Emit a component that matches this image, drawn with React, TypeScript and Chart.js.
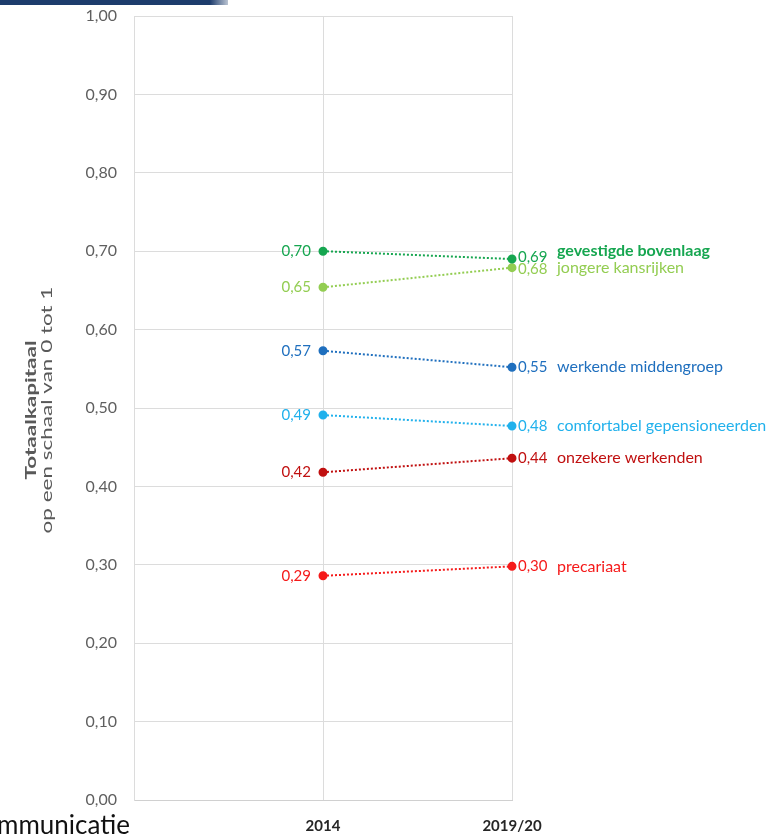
import React, { useEffect, useRef } from 'react';
import { Chart, registerables } from 'chart.js';

Chart.register(...registerables);

const categories = ['', '2014', '2019/20'];
const groups = [
  'gevestigde bovenlaag',
  'jongere kansrijken',
  'werkende middengroep',
  'comfortabel gepensioneerden',
  'onzekere werkenden',
  'precariaat',
];
const values2014 = [0.7, 0.654, 0.573, 0.491, 0.418, 0.286];
const values2019 = [0.69, 0.679, 0.552, 0.477, 0.436, 0.298];
const colors = ['#16a650', '#93cd52', '#1f6fbe', '#21b1ec', '#c01010', '#f51a1a'];
const yTitleBold = 'Totaalkapitaal';
const yTitle = 'op een schaal van 0 tot 1';

const FONT = 'Lato, "Open Sans", sans-serif';
const fmt = (v: number) => v.toFixed(2).replace('.', ',');

// separate labels vertically; 'up' pushes only the upper label upward
function spread(ys: number[], gap: number, up: boolean): number[] {
  const idx = ys.map((_, i) => i).sort((a, b) => ys[a] - ys[b]);
  const out = ys.slice();
  for (let iter = 0; iter < 20; iter++) {
    let moved = false;
    for (let k = 0; k < idx.length - 1; k++) {
      const a = idx[k];
      const b = idx[k + 1];
      const d = out[b] - out[a];
      if (d < gap - 0.01) {
        if (up) {
          out[a] -= gap - d;
        } else {
          const push = (gap - d) / 2;
          out[a] -= push;
          out[b] += push;
        }
        moved = true;
      }
    }
    if (!moved) break;
  }
  return out;
}

const labelPlugin = {
  id: 'pointLabels',
  afterDatasetsDraw(chart: any) {
    const ctx = chart.ctx as CanvasRenderingContext2D;
    ctx.save();
    ctx.textBaseline = 'middle';
    const rightPts: { x: number; y: number }[] = [];
    chart.data.datasets.forEach((_: any, i: number) => {
      const meta = chart.getDatasetMeta(i);
      const p1 = meta.data[1];
      const p2 = meta.data[2];
      ctx.fillStyle = colors[i];
      ctx.font = `15px ${FONT}`;
      ctx.textAlign = 'right';
      ctx.fillText(fmt(values2014[i]), p1.x - 12, p1.y);
      rightPts.push({ x: p2.x, y: p2.y });
    });
    const numYs = spread(rightPts.map((p) => p.y), 12, false);
    const nameYs = spread(rightPts.map((p) => p.y), 17, true);
    rightPts.forEach((p, i) => {
      ctx.fillStyle = colors[i];
      ctx.textAlign = 'left';
      ctx.font = `15px ${FONT}`;
      ctx.fillText(fmt(values2019[i]), p.x + 6, numYs[i]);
      ctx.font = `${i === 0 ? 'bold ' : ''}16px ${FONT}`;
      ctx.fillText(groups[i], p.x + 45, nameYs[i]);
    });
    // y-axis title (stretched along its length like the reference)
    const area = chart.chartArea;
    const cy = (area.top + area.bottom) / 2 + 2;
    ctx.fillStyle = '#595959';
    ctx.textAlign = 'center';
    ctx.translate(31, cy);
    ctx.rotate(-Math.PI / 2);
    ctx.scale(1.5, 1);
    ctx.font = `bold 15px ${FONT}`;
    ctx.fillText(yTitleBold, 0, 0);
    ctx.font = `15px ${FONT}`;
    ctx.fillText(yTitle, 0, 16);
    ctx.restore();
  },
};

export default function App() {
  const ref = useRef<HTMLCanvasElement | null>(null);

  useEffect(() => {
    if (!ref.current) return;
    const chart = new Chart(ref.current, {
      type: 'line',
      data: {
        labels: categories,
        datasets: groups.map((g, i) => ({
          label: g,
          data: [null, values2014[i], values2019[i]],
          borderColor: colors[i],
          backgroundColor: colors[i],
          pointBackgroundColor: colors[i],
          pointBorderColor: colors[i],
          borderWidth: 2,
          borderDash: [2, 2],
          pointRadius: 3.5,
          fill: false,
          tension: 0,
        })),
      },
      options: {
        animation: false,
        responsive: true,
        maintainAspectRatio: false,
        layout: { padding: { top: 16, right: 259, bottom: 0, left: 0 } },
        plugins: {
          legend: { display: false },
          tooltip: { enabled: false },
        },
        scales: {
          x: {
            type: 'category',
            offset: false,
            grid: { color: '#dcdcdc', drawTicks: false, lineWidth: 1 },
            border: { color: '#d0d0d0' },
            ticks: {
              padding: 17,
              color: '#262626',
              font: { family: FONT, size: 15, weight: 'bold' },
              maxRotation: 0,
              autoSkip: false,
            },
            afterFit: (s: any) => {
              s.height = 39;
              s.paddingLeft = 0;
              s.paddingRight = 0;
            },
          },
          y: {
            min: 0,
            max: 1,
            grid: { color: '#dcdcdc', drawTicks: false, lineWidth: 1 },
            border: { color: '#dcdcdc' },
            ticks: {
              stepSize: 0.1,
              padding: 17,
              color: '#5f5f5f',
              font: { family: FONT, size: 16 },
              callback: (v: any) => fmt(Number(v)),
            },
            afterFit: (s: any) => {
              s.width = 134;
              s.paddingTop = 0;
              s.paddingBottom = 0;
            },
          },
        },
      },
      plugins: [labelPlugin],
    });
    return () => chart.destroy();
  }, []);

  return (
    <div style={{ position: 'fixed', left: 0, top: 0, width: 771, height: 839, background: '#fff', overflow: 'hidden' }}>
      <div
        style={{
          position: 'absolute',
          left: 0,
          top: 0,
          width: 228,
          height: 5,
          background: 'linear-gradient(to right, #1d3c6c 0%, #1d3c6c 92%, rgba(29,60,108,0.3) 100%)',
        }}
      />
      <canvas ref={ref} />
      <div
        style={{
          position: 'absolute',
          left: -3,
          top: 809,
          fontFamily: FONT,
          fontSize: 26,
          color: '#111',
          lineHeight: '30px',
          whiteSpace: 'nowrap',
        }}
      >
        mmunicatie
      </div>
    </div>
  );
}
